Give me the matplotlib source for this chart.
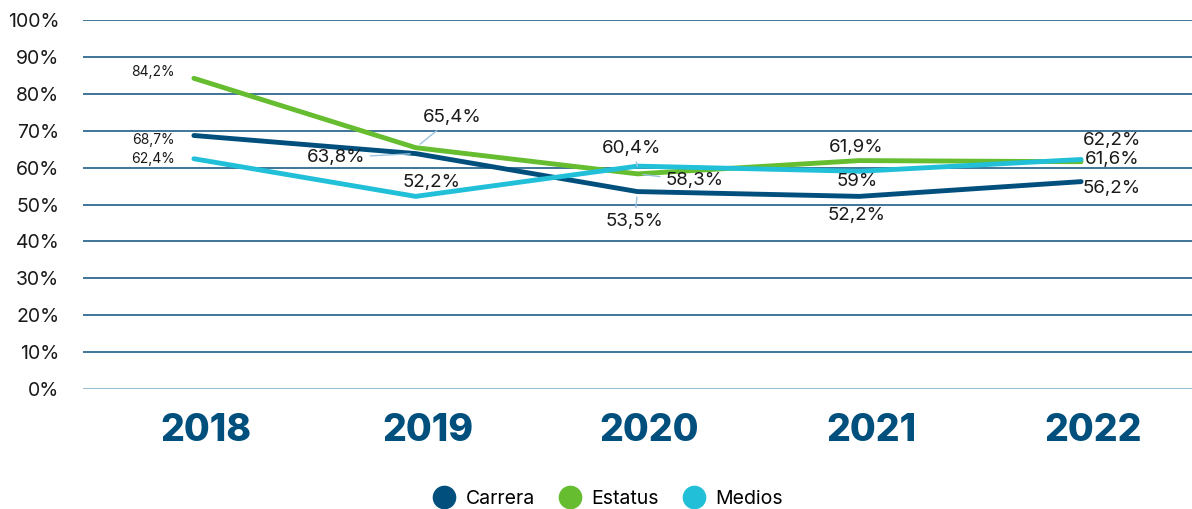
import matplotlib
matplotlib.use("Agg")
import matplotlib.pyplot as plt
import matplotlib.transforms as mtransforms
import numpy as np

years = ["2018", "2019", "2020", "2021", "2022"]
carrera = [68.7, 63.8, 53.5, 52.2, 56.2]
estatus = [84.2, 65.4, 58.3, 61.9, 61.6]
medios = [62.4, 52.2, 60.4, 59.0, 62.2]
yticks = [0, 10, 20, 30, 40, 50, 60, 70, 80, 90, 100]

c_carrera = "#004f7c"
c_estatus = "#65bd2f"
c_medios = "#21c0d8"

plt.rcParams['font.family'] = ['Inter', 'DejaVu Sans']

fig = plt.figure(figsize=(11.92, 5.09), dpi=100)
ax = fig.add_axes([83/1192, 1-389/509, 1-83/1192, (389-20)/509])

x = np.arange(len(years))
ax.set_xlim(-0.5, len(years) - 0.5)
ax.set_ylim(0, 100)

for t in yticks:
    ax.axhline(t, color="#8fb6d2" if t == 0 else "#2f6a91", lw=1.3, zorder=1)

ax.plot(x, carrera, color=c_carrera, lw=3.5, solid_capstyle="round", zorder=3, label="Carrera")
ax.plot(x, estatus, color=c_estatus, lw=3.5, solid_capstyle="round", zorder=3, label="Estatus")
ax.plot(x, medios, color=c_medios, lw=3.5, solid_capstyle="round", zorder=4, label="Medios")

for s in ax.spines.values():
    s.set_visible(False)
ax.set_yticks(yticks)
ax.set_yticklabels([f"{t}%" for t in yticks], fontsize=14, color="#1a1a1a")
ax.tick_params(axis="y", length=0, pad=17)
ax.set_xticks(x)
ax.set_xticklabels(years, fontsize=27, fontweight="heavy", color=c_carrera)
ax.tick_params(axis="x", length=0, pad=17)
shift = mtransforms.ScaledTranslation(12/100, 0, fig.dpi_scale_trans)
for lbl in ax.get_xticklabels():
    lbl.set_transform(lbl.get_transform() + shift)

def fmt(v):
    s = f"{v:.1f}".replace(".", ",")
    if s.endswith(",0"):
        s = s[:-2]
    return s + "%"

labels = [
    (estatus, 0, (-41, 6), 10, False),
    (carrera, 0, (-41, -5), 10, False),
    (medios, 0, (-41, 0), 10, False),
    (estatus, 1, (37, 30), 13.5, True),
    (carrera, 1, (-80, -4), 13.5, True),
    (medios, 1, (16, 14), 13.5, False),
    (medios, 2, (-6, 18), 13.5, True),
    (estatus, 2, (57, -7), 13.5, True),
    (carrera, 2, (-3, -30), 13.5, True),
    (estatus, 3, (-3, 13), 13.5, False),
    (medios, 3, (-2, -10), 13.5, False),
    (carrera, 3, (-3, -19), 13.5, False),
    (medios, 4, (31, 19), 13.5, False),
    (estatus, 4, (31, 2), 13.5, False),
    (carrera, 4, (31, -7), 13.5, False),
]
for series, i, off, fs, leader in labels:
    kw = {}
    if leader:
        kw["arrowprops"] = dict(arrowstyle="-", color="#9cc3e0", lw=1, shrinkA=2, shrinkB=4)
    ax.annotate(fmt(series[i]), xy=(x[i], series[i]), xytext=off,
                textcoords="offset pixels", ha="center", va="center",
                fontsize=fs, color="#1a1a1a", zorder=6, **kw)

from matplotlib.lines import Line2D
handles = [Line2D([], [], marker="o", ls="", ms=16, color=c) for c in (c_carrera, c_estatus, c_medios)]
fig.legend(handles, ["Carrera", "Estatus", "Medios"], loc="center", bbox_to_anchor=(0.51, 1-499/509),
           ncol=3, frameon=False, fontsize=14, handletextpad=0.5, columnspacing=1.2,
           handlelength=1.2)

fig.savefig("out.png", dpi=100)
